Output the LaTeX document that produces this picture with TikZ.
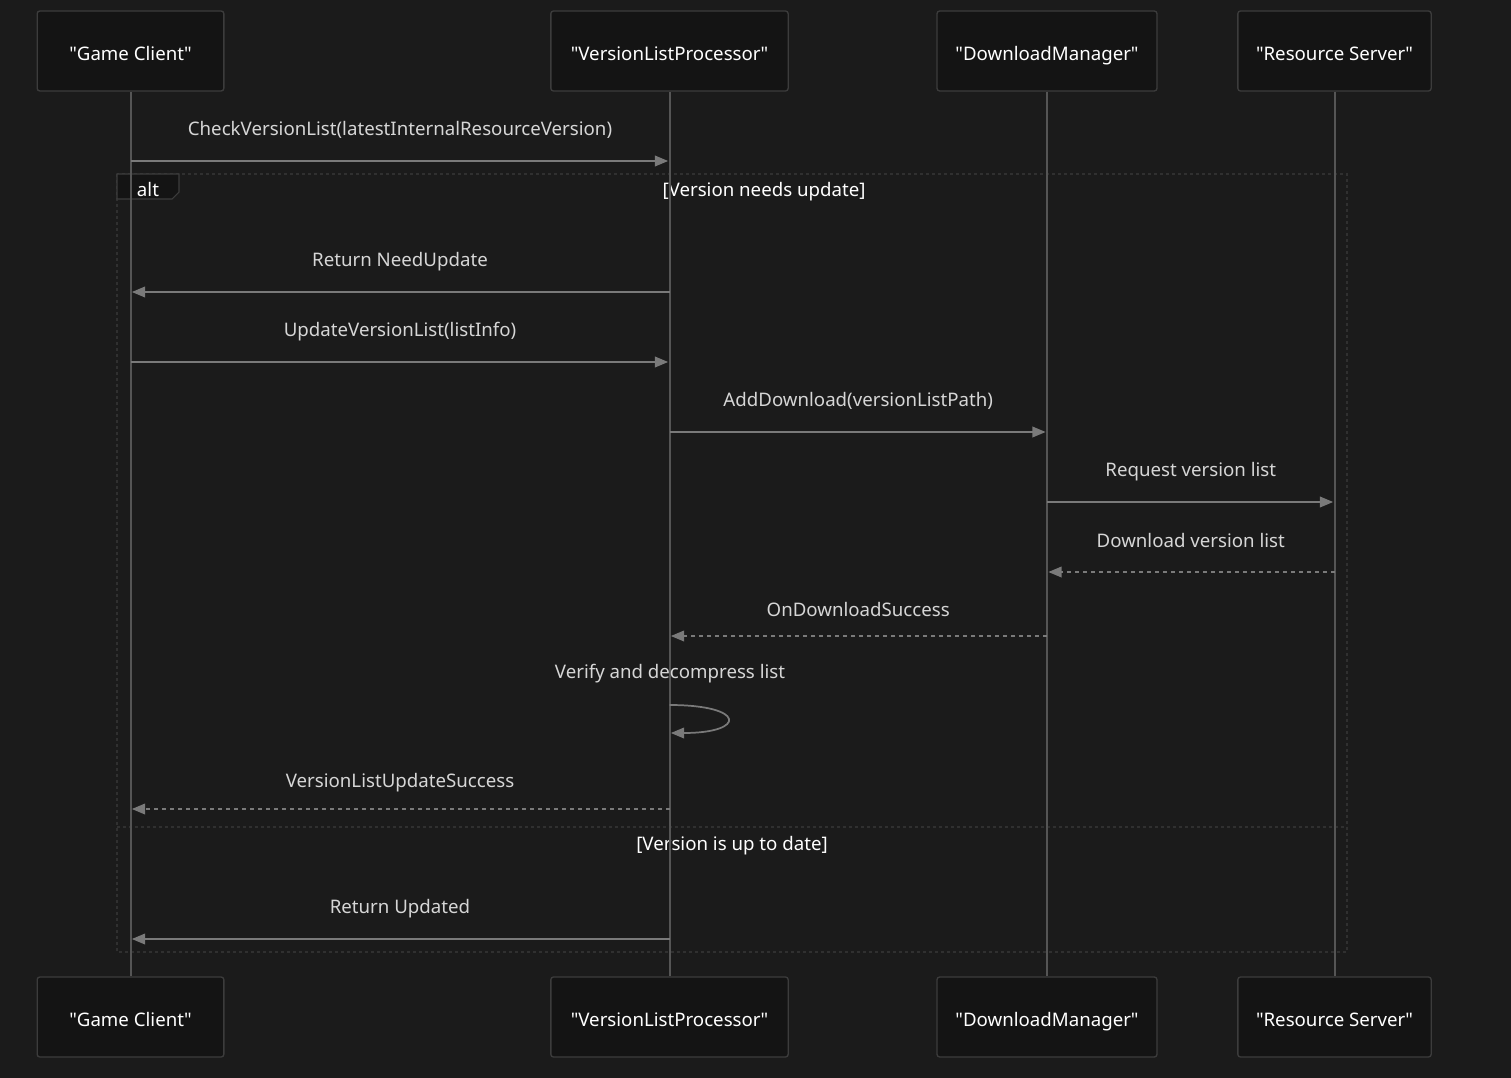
\documentclass[tikz,border=0pt]{standalone}
\usepackage{fontspec}
\setmainfont{Noto Sans}
\usepackage{xcolor}
\usetikzlibrary{shapes,arrows,arrows.meta}

\definecolor{canvas}{HTML}{1B1B1B}
\definecolor{boxfill}{HTML}{141414}
\definecolor{boxline}{HTML}{3C3C3C}
\definecolor{lifeline}{HTML}{555555}
\definecolor{msgline}{HTML}{7A7A7A}
\definecolor{msgtext}{HTML}{D6D6D6}
\definecolor{frameline}{HTML}{303030}

\newcommand{\qt}[1]{\textquotedbl#1\textquotedbl}

\begin{document}
\begin{tikzpicture}[x=0.75pt, y=-0.75pt, font=\fontsize{14}{16}\selectfont]
        \tikzstyle{actor} = [rectangle, draw=boxline, fill=boxfill, line width=1pt, rounded corners=2pt, minimum height=60pt, text height=14pt, text depth=0pt, text=white]
        \tikzstyle{life} = [draw=lifeline, line width=1.5pt]
        \tikzstyle{line} = [draw=msgline, line width=1.3pt, -{Triangle[length=10pt,width=8pt]}, shorten >=1pt]
        \tikzstyle{reply} = [line, dash pattern=on 3pt off 3pt]
        \tikzstyle{msg} = [text=msgtext, midway, yshift=23pt]
        \tikzstyle{frame} = [draw=frameline, line width=0.8pt, dash pattern=on 2.5pt off 2pt]
        \tikzstyle{guard} = [text=white]

    % canvas
    \fill [canvas] (0,0) rectangle (1511,1078);

    % alt frame
    \path [frame] (117,174) rectangle (1347,952);
    \path [frame] (117,827) -- (1347,827);
    \path [draw=boxline, fill=boxfill, line width=0.8pt] (117,174) -- (179,174) -- (179,192) -- (172,199) -- (117,199) -- cycle;
    \node [text=white] (alt label) at (148,189) {alt};
    \node [guard] (guard 1) at (764,192) {[Version needs update]};
    \node [guard] (guard 2) at (732,846) {[Version is up to date]};

    % actors
    \node [actor, minimum width=140pt] (game client) at (130.5,51) {\qt{Game Client}};
    \node [actor, minimum width=178pt] (processor) at (669.5,51) {\qt{VersionListProcessor}};
    \node [actor, minimum width=165pt] (download manager) at (1047,51) {\qt{DownloadManager}};
    \node [actor, minimum width=145pt] (resource server) at (1334.5,51) {\qt{Resource Server}};
    \node [actor, minimum width=140pt] (game client bottom) at (130.5,1017) {\qt{Game Client}};
    \node [actor, minimum width=178pt] (processor bottom) at (669.5,1017) {\qt{VersionListProcessor}};
    \node [actor, minimum width=165pt] (download manager bottom) at (1047,1017) {\qt{DownloadManager}};
    \node [actor, minimum width=145pt] (resource server bottom) at (1334.5,1017) {\qt{Resource Server}};

    % lifelines
    \path [life] (game client) -- (game client bottom);
    \path [life] (processor) -- (processor bottom);
    \path [life] (download manager) -- (download manager bottom);
    \path [life] (resource server) -- (resource server bottom);

    % messages
    \path [line] (game client |- 0,161) -- node [msg] {CheckVersionList(latestInternalResourceVersion)} (processor |- 0,161);
    \path [line] (processor |- 0,292) -- node [msg] {Return NeedUpdate} (game client |- 0,292);
    \path [line] (game client |- 0,362) -- node [msg] {UpdateVersionList(listInfo)} (processor |- 0,362);
    \path [line] (processor |- 0,432) -- node [msg] {AddDownload(versionListPath)} (download manager |- 0,432);
    \path [line] (download manager |- 0,502) -- node [msg] {Request version list} (resource server |- 0,502);
    \path [reply] (resource server |- 0,572) -- node [msg, yshift=1pt] {Download version list} (download manager |- 0,572);
    \path [reply] (download manager |- 0,636) -- node [msg, yshift=-3pt] {OnDownloadSuccess} (processor |- 0,636);
    \node [text=msgtext] (verify label) at (670,674) {Verify and decompress list};
    \path [line] (processor |- 0,705) .. controls +(77,0) and +(77,0) .. (processor |- 0,733);
    \path [reply] (processor |- 0,809) -- node [msg, yshift=-3pt] {VersionListUpdateSuccess} (game client |- 0,809);
    \path [line] (processor |- 0,939) -- node [msg] {Return Updated} (game client |- 0,939);
\end{tikzpicture}
\end{document}
